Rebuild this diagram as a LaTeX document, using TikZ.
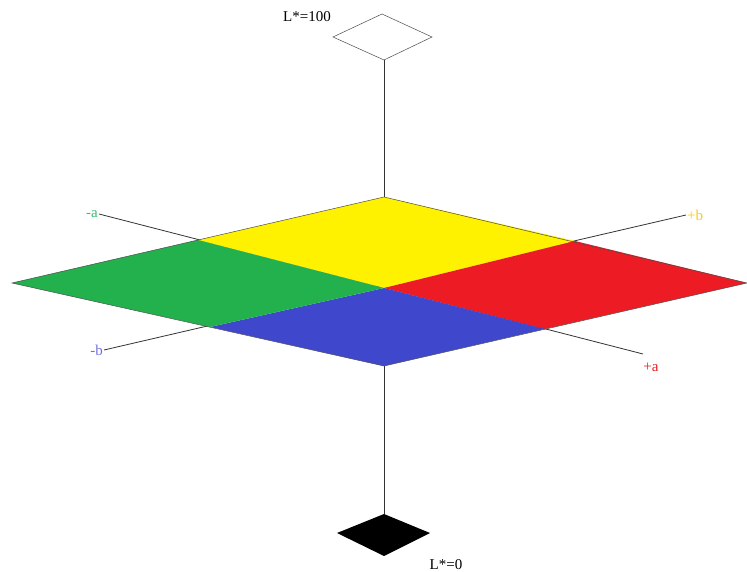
\documentclass[tikz,border=0pt]{standalone}
\usepackage{fontspec}
\setmainfont{Liberation Serif}
\definecolor{paintyellow}{RGB}{255,242,0}
\definecolor{paintred}{RGB}{237,28,36}
\definecolor{paintgreen}{RGB}{34,177,76}
\definecolor{paintblue}{RGB}{63,72,204}
\definecolor{labgold}{RGB}{255,201,14}
\definecolor{labblue}{RGB}{112,112,230}
\definecolor{labgreen}{RGB}{60,190,110}
\tikzset{
  axis/.style={line width=0.8pt, black!80},
  quad/.style={draw=black!70, line width=0.5pt},
  lbl/.style={font=\fontsize{15}{17}\selectfont, inner sep=1pt}
}
\begin{document}
\begin{tikzpicture}[x=1pt, y=-1pt]
  \useasboundingbox (0,0) rectangle (747,572);

  % Points du plan a*b*
  \coordinate (O) at (384,288);
  \coordinate (T) at (384,197);
  \coordinate (R) at (747,283);
  \coordinate (B) at (384,366);
  \coordinate (L) at (12,283);
  \coordinate (ma) at (198,240);
  \coordinate (pb) at (575,241);
  \coordinate (pa) at (545,329);
  \coordinate (mb) at (210,327);

  % Extrémités des axes
  \coordinate (aend1) at (99,214);
  \coordinate (aend2) at (643,354);
  \coordinate (bend1) at (104,350);
  \coordinate (bend2) at (686,215);
  \coordinate (Ltop) at (384,60);
  \coordinate (Lbot) at (384,514);

  % Axes
  \draw[axis] (aend1) -- (aend2);
  \draw[axis] (bend1) -- (bend2);
  \draw[axis] (Ltop) -- (Lbot);

  % Quadrants
  \fill[paintyellow] (O) -- (ma) -- (T) -- (pb) -- cycle;
  \fill[paintred] (O) -- (pb) -- (R) -- (pa) -- cycle;
  \fill[paintblue] (O) -- (pa) -- (B) -- (mb) -- cycle;
  \fill[paintgreen] (O) -- (mb) -- (L) -- (ma) -- cycle;
  \draw[quad] (T) -- (R) -- (B) -- (L) -- cycle;

  % Losanges L*
  \draw[quad, fill=white] (382,14) -- (432,37) -- (Ltop) -- (333,37) -- cycle;
  \fill[black] (Lbot) -- (430,533) -- (384,556) -- (337,533) -- cycle;

  % Labels
  \node[lbl, labgreen, left] (la) at (aend1) {-a};
  \node[lbl, labblue, left] (lb) at (bend1) {-b};
  \node[lbl, labgold, right] (lpb) at (bend2) {+b};
  \node[lbl, paintred] (lpa) at (651,367) {+a};
  \node[lbl] (l100) at (307,17) {L*=100};
  \node[lbl] (l0) at (446,565) {L*=0};
\end{tikzpicture}
\end{document}
